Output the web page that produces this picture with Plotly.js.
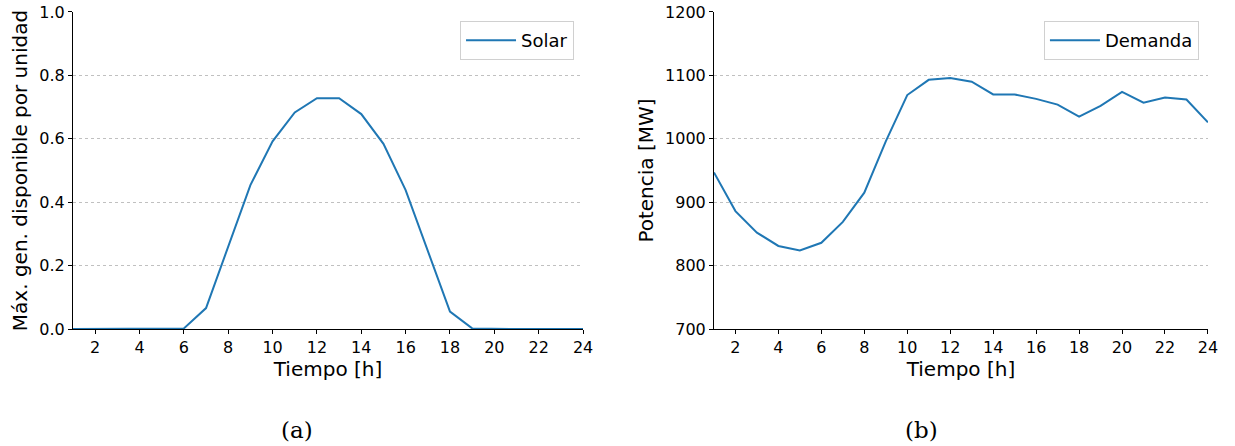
<!DOCTYPE html>
<html>
<head>
<meta charset="utf-8">
<script src="https://cdn.plot.ly/plotly-3.0.1.min.js"></script>
<style>html,body{margin:0;padding:0;background:#fff;}#chart{width:1235px;height:446px;}</style>
</head>
<body>
<div id="chart"></div>
<script>
const hours = [1,2,3,4,5,6,7,8,9,10,11,12,13,14,15,16,17,18,19,20,21,22,23,24];
const solar = [0,0,0,0,0,0.002,0.066,0.26,0.454,0.592,0.683,0.728,0.728,0.678,0.584,0.438,0.245,0.055,0.002,0,0,0,0,0];
const demanda = [947,886,852,831,824,836,869,915,996,1069,1093,1096,1090,1070,1070,1063,1054,1035,1052,1074,1057,1065,1062,1026];
const xTicks = [2,4,6,8,10,12,14,16,18,20,22,24];
const solarTicks = [0,0.2,0.4,0.6,0.8,1.0];
const demTicks = [700,800,900,1000,1100,1200];
const lineColor = '#1f77b4';

const tickFont = {family: 'DejaVu Sans', size: 16, color: '#000'};
const titleFont = {family: 'DejaVu Sans', size: 20, color: '#000'};
const legendFont = {family: 'DejaVu Sans', size: 18, color: '#000'};

const baseX = {
  range: [1, 24], tickvals: xTicks, ticks: 'outside', ticklen: 4, tickcolor: '#000',
  showline: true, linecolor: '#000', linewidth: 1, showgrid: false, zeroline: false,
  tickfont: tickFont, title: {text: 'Tiempo [h]', font: titleFont, standoff: 4}
};
const baseY = {
  ticks: 'outside', ticklen: 4, tickcolor: '#000', showline: true, linecolor: '#000', linewidth: 1,
  showgrid: true, gridcolor: '#b0b0b0', griddash: 'dot', gridwidth: 0.8, zeroline: false,
  tickfont: tickFont, domain: [0.2623, 0.9731]
};

const data = [
  {x: hours, y: solar, type: 'scatter', mode: 'lines', name: 'Solar',
   line: {color: lineColor, width: 2}, xaxis: 'x', yaxis: 'y', legend: 'legend'},
  {x: hours, y: demanda, type: 'scatter', mode: 'lines', name: 'Demanda',
   line: {color: lineColor, width: 2}, xaxis: 'x2', yaxis: 'y2', legend: 'legend2'}
];

const legendCommon = {xanchor: 'right', yanchor: 'top', bgcolor: '#fff', bordercolor: '#d0d0d0',
  borderwidth: 1, font: legendFont, itemwidth: 50};

const layout = {
  width: 1235, height: 446,
  margin: {l: 0, r: 0, t: 0, b: 0},
  paper_bgcolor: '#fff', plot_bgcolor: '#fff',
  showlegend: true,
  xaxis: Object.assign({}, baseX, {domain: [0.0591, 0.4721], anchor: 'y'}),
  yaxis: Object.assign({}, baseY, {range: [0, 1.0], tickvals: solarTicks, tickformat: '.1f', anchor: 'x',
    title: {text: 'Máx. gen. disponible por unidad', font: titleFont, standoff: 6}}),
  xaxis2: Object.assign({}, baseX, {domain: [0.5781, 0.9781], anchor: 'y2'}),
  yaxis2: Object.assign({}, baseY, {range: [700, 1200], tickvals: demTicks, anchor: 'x2',
    title: {text: 'Potencia [MW]', font: titleFont, standoff: 6}}),
  legend: Object.assign({}, legendCommon, {x: 0.4648, y: 0.953}),
  legend2: Object.assign({}, legendCommon, {x: 0.9708, y: 0.953}),
  annotations: [
    {text: '(a)', xref: 'paper', yref: 'paper', x: 297/1235, y: 1 - 430/446, xanchor: 'center', yanchor: 'middle',
     showarrow: false, font: {family: 'DejaVu Serif', size: 23, color: '#000'}},
    {text: '(b)', xref: 'paper', yref: 'paper', x: 921/1235, y: 1 - 430/446, xanchor: 'center', yanchor: 'middle',
     showarrow: false, font: {family: 'DejaVu Serif', size: 23, color: '#000'}}
  ]
};

Plotly.newPlot('chart', data, layout, {displayModeBar: false, staticPlot: true});
</script>
</body>
</html>
